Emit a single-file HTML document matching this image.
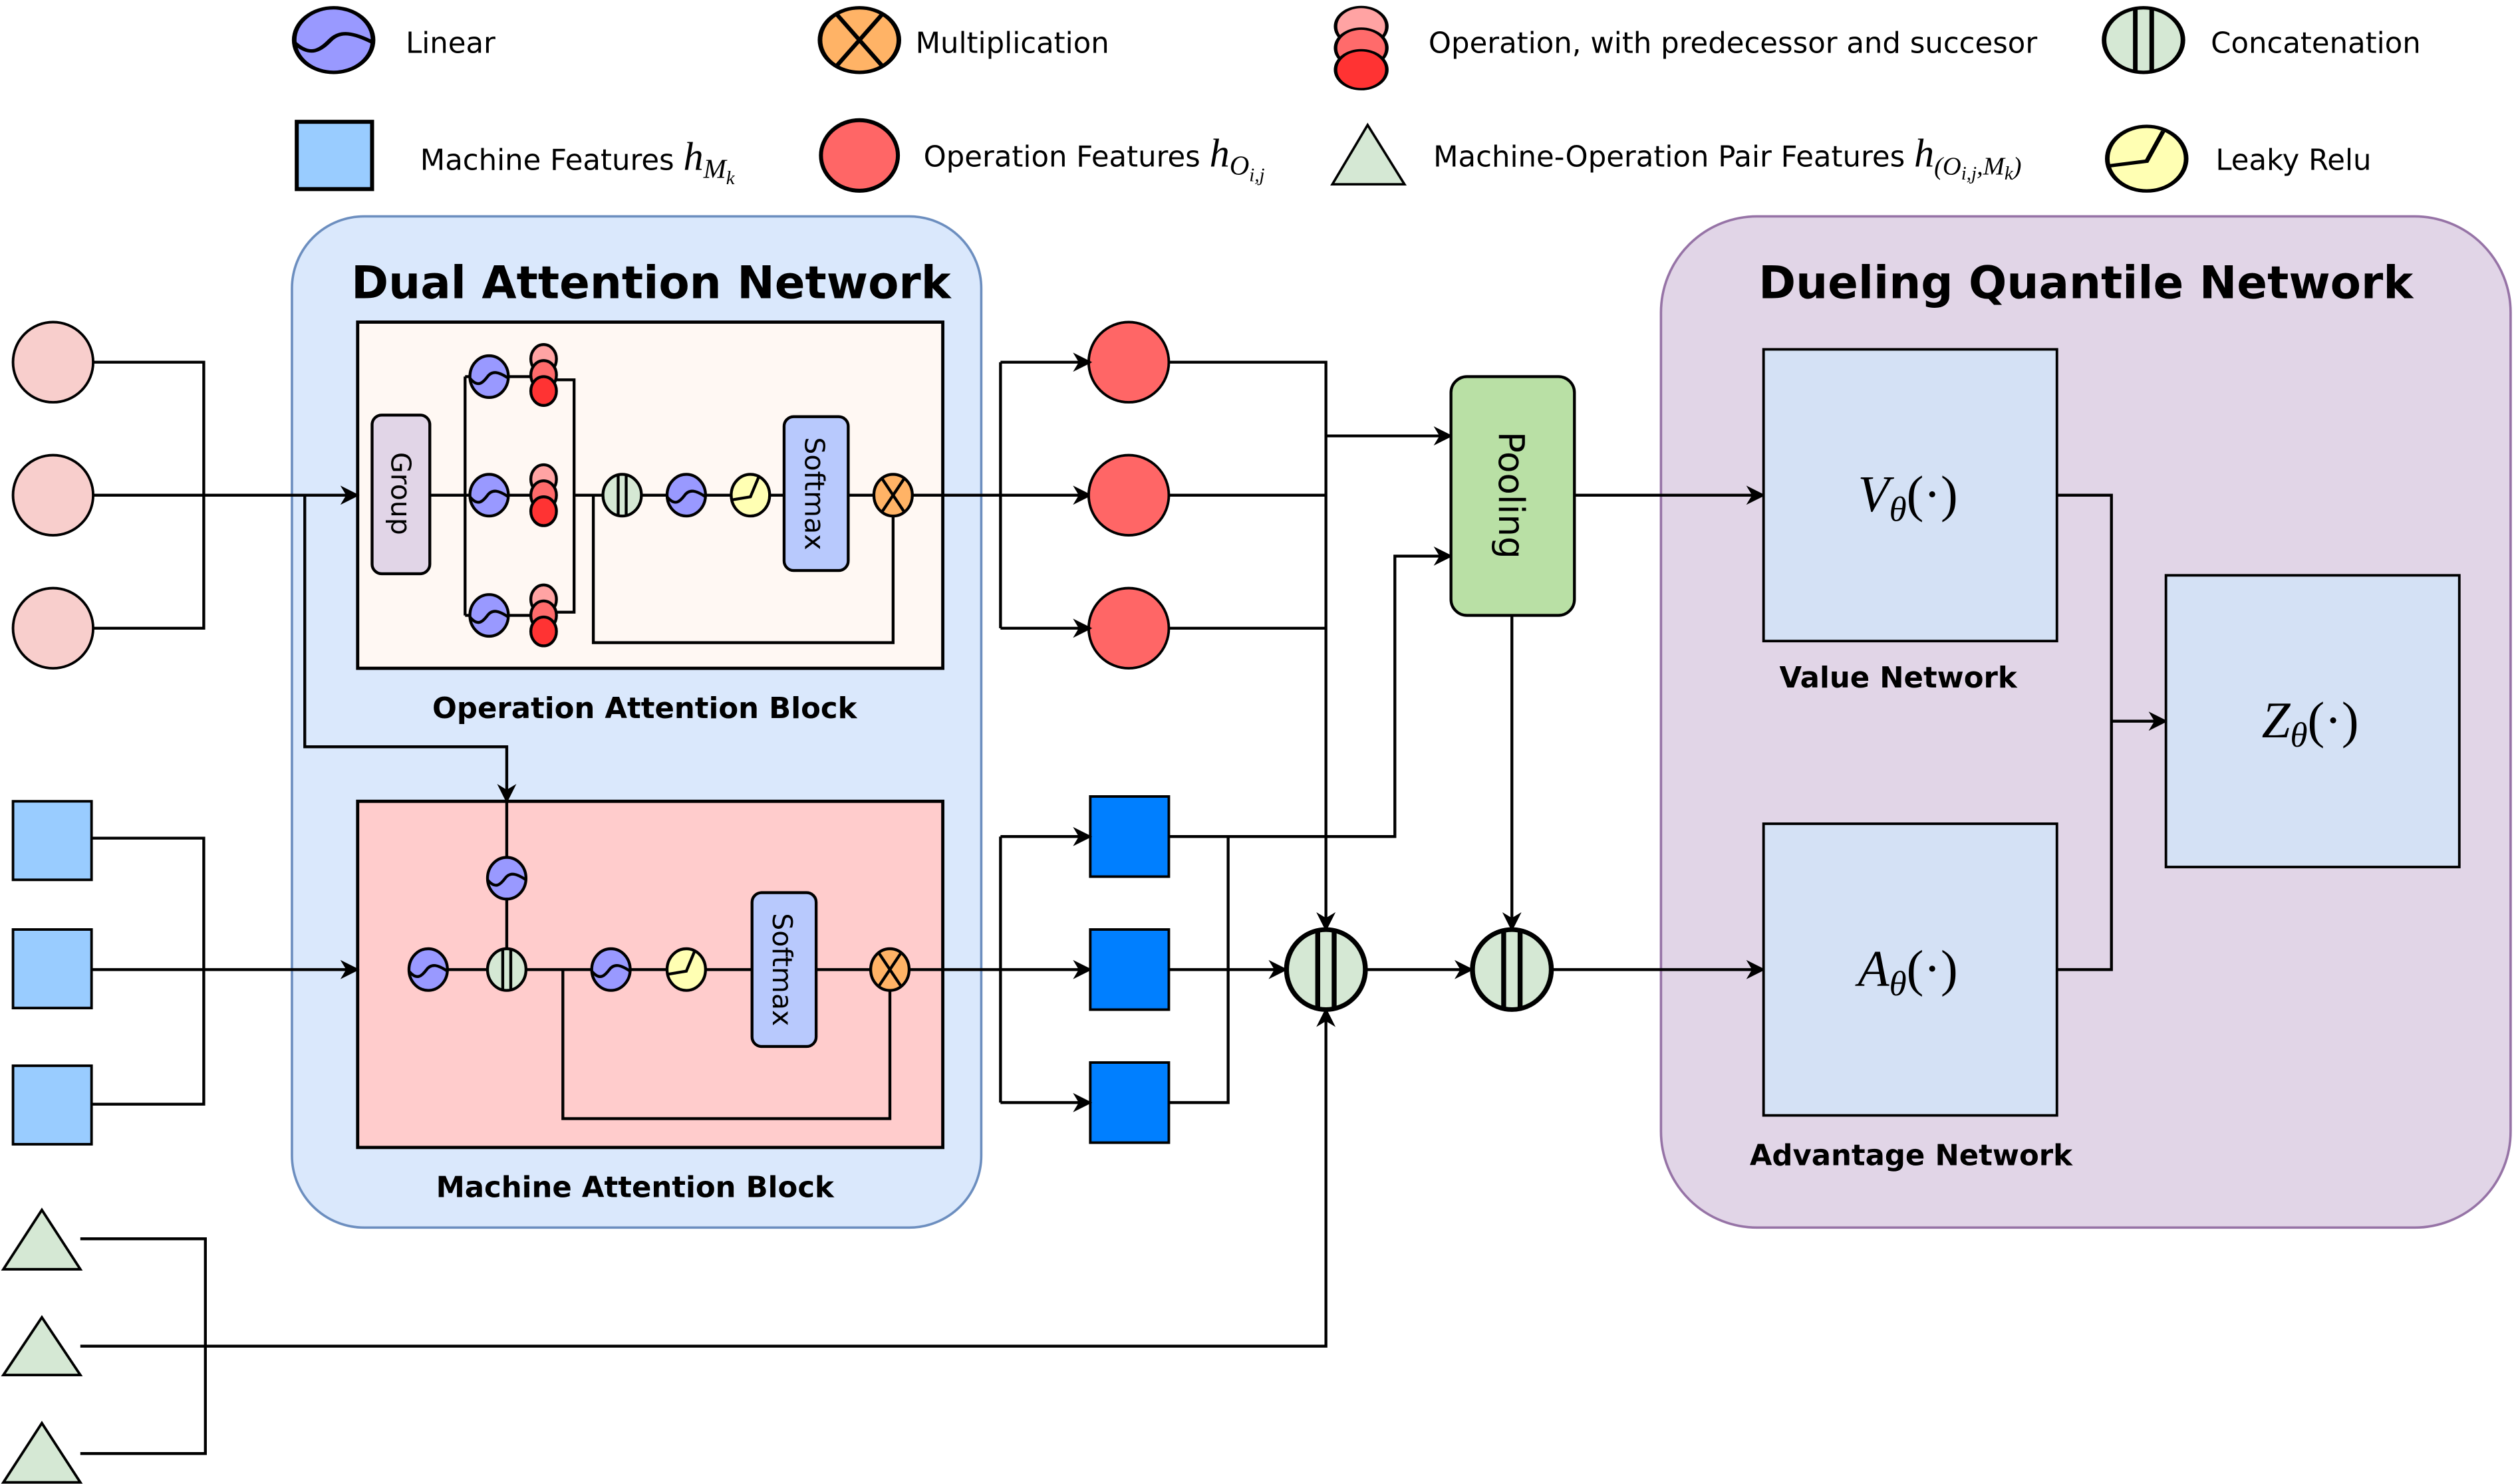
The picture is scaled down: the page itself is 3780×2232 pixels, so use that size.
<!DOCTYPE html>
<html><head><meta charset="utf-8"><style>
html,body{margin:0;padding:0;background:#fff}
svg{display:block}
text{font-family:"DejaVu Sans","Liberation Sans",sans-serif;fill:#000}
.m{font-family:"Liberation Serif","DejaVu Serif",serif;font-style:italic}
</style></head><body>
<svg width="3780" height="2232" viewBox="0 0 1568 926" xmlns="http://www.w3.org/2000/svg">
<defs>
<marker id="ar" viewBox="0 0 10 10" refX="9" refY="5" markerWidth="12" markerHeight="12" markerUnits="userSpaceOnUse" orient="auto"><path d="M0,0 L10,5 L0,10 L3,5 z" fill="#000"/></marker>
<g id="lin"><ellipse rx="12" ry="13" fill="#9999ff" stroke="#000"/><path d="M-12,1 C-7,7 -4,4 -1,0 C2,-4 6,-3 12,1" fill="none" stroke="#000"/></g>
<g id="mul"><ellipse rx="12" ry="13" fill="#ffb366" stroke="#000"/><path d="M-7,-10.5 L7,10.5 M7,-10.5 L-7,10.5" fill="none" stroke="#000"/></g>
<g id="cat"><ellipse rx="12" ry="13" fill="#d5e8d4" stroke="#000"/><path d="M-2.5,-12.8 V12.8 M2.5,-12.8 V12.8" fill="none" stroke="#000"/></g>
<g id="lr"><ellipse rx="12" ry="13" fill="#ffffb3" stroke="#000"/><path d="M-12,3 L0,1 L5,-11" fill="none" stroke="#000"/></g>
<g id="stk"><ellipse cx="0" cy="-10" rx="8" ry="9" fill="#ffa3a3" stroke="#000"/><ellipse cx="0" cy="0" rx="8" ry="9" fill="#ff6b6b" stroke="#000"/><ellipse cx="0" cy="10" rx="8" ry="9" fill="#ff3333" stroke="#000"/></g>
</defs>

<!-- Legend -->
<use href="#lin" transform="translate(208,25) scale(2.05,1.55)" stroke-width="1.4"/>
<text x="253" y="33" font-size="18">Linear</text>
<use href="#mul" transform="translate(536,25) scale(2.05,1.55)" stroke-width="1.4"/>
<text x="571" y="33" font-size="18">Multiplication</text>
<use href="#stk" transform="translate(849,30) scale(2,1.35)" stroke-width="1.1"/>
<text x="891" y="33" font-size="18">Operation, with predecessor and succesor</text>
<use href="#cat" transform="translate(1337,25) scale(2.05,1.55)" stroke-width="1.4"/>
<text x="1379" y="33" font-size="18">Concatenation</text>

<rect x="185" y="76" width="47" height="42" fill="#99ccff" stroke="#000" stroke-width="2.5"/>
<text x="262" y="106" font-size="18">Machine Features <tspan class="m" font-size="25">h</tspan><tspan class="m" font-size="17" dy="5">M</tspan><tspan class="m" font-size="12" dy="4">k</tspan></text>
<ellipse cx="536" cy="97" rx="24" ry="22" fill="#ff6666" stroke="#000" stroke-width="2.5"/>
<text x="576" y="104" font-size="18">Operation Features <tspan class="m" font-size="25">h</tspan><tspan class="m" font-size="17" dy="5">O</tspan><tspan class="m" font-size="12" dy="4">i,j</tspan></text>
<path d="M853,78 L876,115 L831,115 z" fill="#d5e8d4" stroke="#000" stroke-width="1.5"/>
<text x="894" y="104" font-size="18">Machine-Operation Pair Features <tspan class="m" font-size="25">h</tspan><tspan class="m" font-size="16" dy="5">(O</tspan><tspan class="m" font-size="12" dy="3">i,j</tspan><tspan class="m" font-size="16" dy="-3">,M</tspan><tspan class="m" font-size="12" dy="3">k</tspan><tspan class="m" font-size="16" dy="-3">)</tspan></text>
<use href="#lr" transform="translate(1339,99) scale(2.05,1.55)" stroke-width="1.4"/>
<text x="1382" y="106" font-size="18">Leaky Relu</text>

<!-- Big containers -->
<rect x="182" y="135" width="430" height="631" rx="45" fill="#dae8fc" stroke="#6c8ebf" stroke-width="1.5"/>
<text x="406" y="186" font-size="28" font-weight="bold" text-anchor="middle">Dual Attention Network</text>
<rect x="1036" y="135" width="530" height="631" rx="60" fill="#e1d5e7" stroke="#9673a6" stroke-width="1.5"/>
<text x="1301" y="186" font-size="28" font-weight="bold" text-anchor="middle">Dueling Quantile Network</text>

<!-- Operation Attention Block -->
<rect x="223" y="201" width="365" height="216" fill="#fff8f3" stroke="#000" stroke-width="2"/>
<text x="402" y="448" font-size="18" font-weight="bold" text-anchor="middle">Operation Attention Block</text>
<g fill="none" stroke="#000" stroke-width="1.8">
<path d="M268,309 H290 M290,235 V384 M290,235 H339 M290,309 H339 M290,384 H339 M339,237 H358 V382 H339 M358,309 H557 M370,309 V401 H557 V321"/>
<path d="M569,309 H680" marker-end="url(#ar)"/>
</g>
<rect x="232" y="259" width="36" height="99" rx="6" fill="#e1d5e7" stroke="#000" stroke-width="1.8"/>
<text transform="translate(244,308) rotate(90)" font-size="17" text-anchor="middle">Group</text>
<g stroke-width="1.8">
<use href="#lin" transform="translate(305,235)"/><use href="#lin" transform="translate(305,309)"/><use href="#lin" transform="translate(305,384)"/>
<use href="#stk" transform="translate(339,234)"/><use href="#stk" transform="translate(339,309)"/><use href="#stk" transform="translate(339,384)"/>
<use href="#cat" transform="translate(388,309)"/><use href="#lin" transform="translate(428,309)"/><use href="#lr" transform="translate(468,309)"/>
<use href="#mul" transform="translate(557,309)"/>
</g>
<rect x="489" y="260" width="40" height="96" rx="6" fill="#b8c9fd" stroke="#000" stroke-width="1.8"/>
<text transform="translate(502,308) rotate(90)" font-size="17" text-anchor="middle">Softmax</text>

<!-- Machine Attention Block -->
<rect x="223" y="500" width="365" height="216" fill="#ffcccc" stroke="#000" stroke-width="2"/>
<text x="396" y="747" font-size="18" font-weight="bold" text-anchor="middle">Machine Attention Block</text>
<g fill="none" stroke="#000" stroke-width="1.8">
<path d="M279,605 H555 M316,605 V548 M351,605 V698 H555 V617"/>
<path d="M567,605 H680" marker-end="url(#ar)"/>
</g>
<g stroke-width="1.8">
<use href="#lin" transform="translate(267,605)"/><use href="#cat" transform="translate(316,605)"/><use href="#lin" transform="translate(316,548)"/>
<use href="#lin" transform="translate(381,605)"/><use href="#lr" transform="translate(428,605)"/><use href="#mul" transform="translate(555,605)"/>
</g>
<rect x="469" y="557" width="40" height="96" rx="6" fill="#b8c9fd" stroke="#000" stroke-width="1.8"/>
<text transform="translate(482,605) rotate(90)" font-size="17" text-anchor="middle">Softmax</text>

<!-- Left inputs -->
<g fill="#f8cecc" stroke="#000" stroke-width="1.6">
<circle cx="33" cy="226" r="25"/><circle cx="33" cy="309" r="25"/><circle cx="33" cy="392" r="25"/>
</g>
<g fill="#99ccff" stroke="#000" stroke-width="1.6">
<rect x="8" y="500" width="49" height="49"/><rect x="8" y="580" width="49" height="49"/><rect x="8" y="665" width="49" height="49"/>
</g>
<g fill="#d5e8d4" stroke="#000" stroke-width="1.6">
<path d="M26,755 L50,792 L2,792 z"/><path d="M26,822 L50,858 L2,858 z"/><path d="M26,888 L50,925 L2,925 z"/>
</g>
<g fill="none" stroke="#000" stroke-width="1.8">
<path d="M58,226 H127 V392 H58"/>
<path d="M58,309 H223" marker-end="url(#ar)"/>
<path d="M190,309 V466 H316 V500" marker-end="url(#ar)"/>
<path d="M316,500 V535"/>
<path d="M57,523 H127 V689 H57"/>
<path d="M57,605 H223" marker-end="url(#ar)"/>
<path d="M50,773 H128 V907 H50"/>
<path d="M50,840 H827 V630" marker-end="url(#ar)"/>
</g>

<!-- Operation outputs -->
<g fill="#ff6666" stroke="#000" stroke-width="1.6">
<circle cx="704" cy="226" r="25"/><circle cx="704" cy="309" r="25"/><circle cx="704" cy="392" r="25"/>
</g>
<g fill="#007fff" stroke="#000" stroke-width="1.6">
<rect x="680" y="497" width="49" height="50"/><rect x="680" y="580" width="49" height="50"/><rect x="680" y="663" width="49" height="50"/>
</g>
<g fill="none" stroke="#000" stroke-width="1.8">
<path d="M624,226 V392"/>
<path d="M624,226 H680" marker-end="url(#ar)"/>
<path d="M624,392 H680" marker-end="url(#ar)"/>
<path d="M729,226 H827 V580" marker-end="url(#ar)"/>
<path d="M729,309 H827 M729,392 H827"/>
<path d="M827,272 H905" marker-end="url(#ar)"/>
<path d="M624,522 V688"/>
<path d="M624,522 H680" marker-end="url(#ar)"/>
<path d="M624,688 H680" marker-end="url(#ar)"/>
<path d="M729,522 H870 V347 H905" marker-end="url(#ar)"/>
<path d="M766,522 V688 H729"/>
<path d="M729,605 H802" marker-end="url(#ar)"/>
<path d="M852,605 H918" marker-end="url(#ar)"/>
<path d="M943,384 V580" marker-end="url(#ar)"/>
<path d="M968,605 H1100" marker-end="url(#ar)"/>
<path d="M982,309 H1100" marker-end="url(#ar)"/>
<path d="M1283,309 H1317 V605 H1283"/>
<path d="M1317,450 H1351" marker-end="url(#ar)"/>
</g>
<use href="#cat" transform="translate(827,605) scale(2.05,1.92)" stroke-width="1.5"/>
<use href="#cat" transform="translate(943,605) scale(2.05,1.92)" stroke-width="1.5"/>

<rect x="905" y="235" width="77" height="149" rx="10" fill="#b9e0a5" stroke="#000" stroke-width="1.8"/>
<text transform="translate(935,309) rotate(90)" font-size="22" text-anchor="middle">Pooling</text>

<!-- Dueling internals -->
<g fill="#d4e1f5" stroke="#000" stroke-width="1.6">
<rect x="1100" y="218" width="183" height="182"/>
<rect x="1100" y="514" width="183" height="182"/>
<rect x="1351" y="359" width="183" height="182"/>
</g>
<text x="1190" y="319" font-size="32" text-anchor="middle"><tspan class="m">V</tspan><tspan class="m" font-size="22" dy="6">θ</tspan><tspan font-family="Liberation Serif" dy="-6">(·)</tspan></text>
<text x="1190" y="615" font-size="32" text-anchor="middle"><tspan class="m">A</tspan><tspan class="m" font-size="22" dy="6">θ</tspan><tspan font-family="Liberation Serif" dy="-6">(·)</tspan></text>
<text x="1441" y="460" font-size="32" text-anchor="middle"><tspan class="m">Z</tspan><tspan class="m" font-size="22" dy="6">θ</tspan><tspan font-family="Liberation Serif" dy="-6">(·)</tspan></text>
<text x="1184" y="429" font-size="18" font-weight="bold" text-anchor="middle">Value Network</text>
<text x="1192" y="727" font-size="18" font-weight="bold" text-anchor="middle">Advantage Network</text>
</svg>
</body></html>
